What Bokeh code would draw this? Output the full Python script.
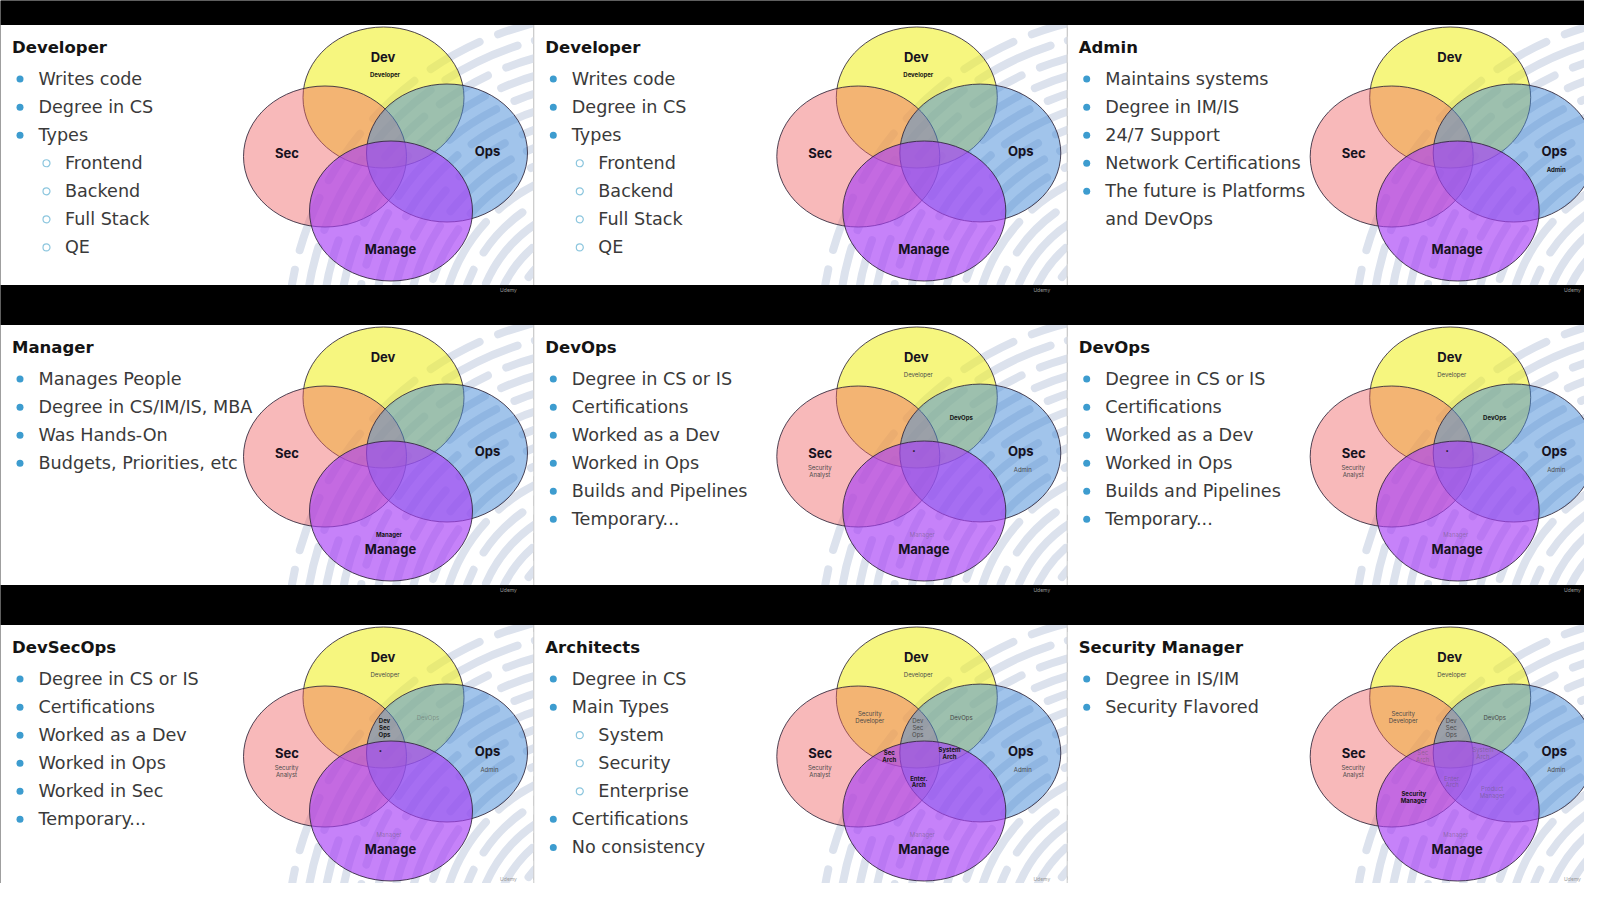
import numpy as np
from bokeh.plotting import figure
from bokeh.models import Range1d, ColumnDataSource
from bokeh.core.properties import value
from bokeh.embed import file_html
from bokeh.resources import INLINE

# ---------------- page geometry (1 data unit = 1 page pixel) ----------------
FIG_W, FIG_H = 1584, 883

tile_x0 = [0.0, 533.3, 1066.7]
tile_y0 = [0.0, 300.0, 600.0]
tile_w = 533.3
band_top, band_bottom = 24.5, 284.5

FONT_TEXT = "DejaVu Sans"
FONT_VENN = "Inter"

# ---------------- slide texts ----------------
titles = ["Developer", "Developer", "Admin", "Manager", "DevOps", "DevOps",
          "DevSecOps", "Architects", "Security Manager"]

# level 0 = bullet, 1 = sub-bullet, 2 = continuation line
bullets_developer = [(0, "Writes code"), (0, "Degree in CS"), (0, "Types"), (1, "Frontend"),
                     (1, "Backend"), (1, "Full Stack"), (1, "QE")]
bullets_admin = [(0, "Maintains systems"), (0, "Degree in IM/IS"), (0, "24/7 Support"),
                 (0, "Network Certifications"), (0, "The future is Platforms"), (2, "and DevOps")]
bullets_manager = [(0, "Manages People"), (0, "Degree in CS/IM/IS, MBA"), (0, "Was Hands-On"),
                   (0, "Budgets, Priorities, etc")]
bullets_devops = [(0, "Degree in CS or IS"), (0, "Certifications"), (0, "Worked as a Dev"),
                  (0, "Worked in Ops"), (0, "Builds and Pipelines"), (0, "Temporary...")]
bullets_devsecops = [(0, "Degree in CS or IS"), (0, "Certifications"), (0, "Worked as a Dev"),
                     (0, "Worked in Ops"), (0, "Worked in Sec"), (0, "Temporary...")]
bullets_architects = [(0, "Degree in CS"), (0, "Main Types"), (1, "System"), (1, "Security"),
                      (1, "Enterprise"), (0, "Certifications"), (0, "No consistency")]
bullets_secmanager = [(0, "Degree in IS/IM"), (0, "Security Flavored")]

slide_bullets = [bullets_developer, bullets_developer, bullets_admin, bullets_manager,
                 bullets_devops, bullets_devops, bullets_devsecops, bullets_architects,
                 bullets_secmanager]

# text layout inside a slide
title_x, title_y = 11.5, 47.0
bullet_y0, bullet_step = 78.6, 28.05
dot_x = [19.5, 46.0, None]
text_x = [38.0, 64.5, 38.0]

# ---------------- Venn diagram ----------------
venn_names = ["Dev", "Sec", "Ops", "Manage"]
venn_cx = [383.0, 324.5, 446.5, 390.5]
venn_cy = [97.0, 156.0, 152.5, 210.5]
venn_w = [161.0, 163.0, 161.0, 163.0]
venn_h = [141.0, 141.0, 138.0, 140.0]
venn_color = ["#f0f02a", "#f06466", "#4a8ed8", "#a842f6"]
venn_alpha = [0.6, 0.45, 0.52, 0.66]
venn_label_x = [382.5, 286.5, 487.0, 390.0]
venn_label_y = [56.0, 152.5, 150.5, 248.5]

role_names = ["Developer", "Security Analyst", "Admin", "Manager", "DevOps", "DevSecOps",
              "Security Developer", "Sec Arch", "System Arch", "Enter. Arch",
              "Security Manager", "Product Manager", "center"]
role_lines = [["Developer"], ["Security", "Analyst"], ["Admin"], ["Manager"], ["DevOps"],
              ["Dev", "Sec", "Ops"], ["Security", "Developer"], ["Sec", "Arch"],
              ["System", "Arch"], ["Enter.", "Arch"], ["Security", "Manager"],
              ["Product", "Manager"], ["\u2022"]]
role_x = [384.5, 286.0, 489.0, 388.5, 427.5, 384.0, 336.0, 355.5, 415.7, 385.0, 346.6, 425.0, 380.0]
role_y = [73.5, 167.3, 169.4, 233.7, 117.3, 120.4, 113.3, 152.0, 149.0, 177.6, 193.0, 188.0, 149.5]
role_line_gap = 6.7

# b = bold dark, g = gray, f = faint
slide_roles = [
    {"Developer": "b"},
    {"Developer": "b"},
    {"Admin": "b"},
    {"Manager": "b"},
    {"Developer": "g", "Security Analyst": "g", "Admin": "g", "Manager": "f", "DevOps": "b", "center": "b"},
    {"Developer": "g", "Security Analyst": "g", "Admin": "g", "Manager": "f", "DevOps": "b", "center": "b"},
    {"Developer": "g", "Security Analyst": "g", "Admin": "g", "Manager": "f", "DevOps": "f",
     "DevSecOps": "b", "center": "b"},
    {"Developer": "g", "Security Analyst": "g", "Admin": "g", "Manager": "f", "DevOps": "g",
     "DevSecOps": "g", "Security Developer": "g", "Sec Arch": "b", "System Arch": "b", "Enter. Arch": "b"},
    {"Developer": "g", "Security Analyst": "g", "Admin": "g", "Manager": "f", "DevOps": "g",
     "DevSecOps": "g", "Security Developer": "g", "Sec Arch": "f", "System Arch": "f", "Enter. Arch": "f",
     "Security Manager": "b", "Product Manager": "f"},
]

# decorative background arcs
stripe_cx, stripe_cy = 612.0, 338.0
stripe_r_a = [104, 138, 172, 206, 240, 274, 308]
stripe_r_b = [121, 155, 189, 223, 257, 291, 325]

udemy_dx, udemy_dy = 508.0, 289.5


p = figure(width=FIG_W, height=FIG_H, x_range=Range1d(0, FIG_W), y_range=Range1d(FIG_H, 0),
           output_backend="svg", toolbar_location=None, min_border=0,
           x_axis_location=None, y_axis_location=None)
p.xgrid.visible = False
p.ygrid.visible = False
p.outline_line_color = None
p.background_fill_color = "#000000"
p.border_fill_color = "#000000"

# ---------------- tiles ----------------
texts = {k: dict(x=[], y=[], text=[]) for k in
         ["title", "bullet", "venn", "rb", "rg", "rf", "udemy"]}
dots = dict(x=[], y=[])
subdots = dict(x=[], y=[])

for k in range(9):
    ox = tile_x0[k % 3]
    oy = tile_y0[k // 3]
    # white slide
    p.quad(left=[ox], right=[ox + tile_w], top=[oy + band_top], bottom=[oy + band_bottom],
           fill_color="#ffffff", line_color=None)
    # stripes
    for radii, dash, off in [(stripe_r_a, "80 18", 0), (stripe_r_b, "56 20", 30)]:
        p.circle(x=[ox + stripe_cx] * len(radii), y=[oy + stripe_cy] * len(radii), radius=radii,
                 fill_color=None, line_color="#dce2ed", line_width=8, line_dash=dash,
                 line_dash_offset=off, line_cap="round")
    # venn ellipses
    p.ellipse(x=[ox + v for v in venn_cx], y=[oy + v for v in venn_cy], width=venn_w, height=venn_h,
              fill_color=venn_color, fill_alpha=venn_alpha, line_color="#2e2438",
              line_width=1.0, line_alpha=0.85)

    # texts
    texts["title"]["x"].append(ox + title_x)
    texts["title"]["y"].append(oy + title_y)
    texts["title"]["text"].append(titles[k])
    for i, (lvl, t) in enumerate(slide_bullets[k]):
        yy = oy + bullet_y0 + i * bullet_step
        texts["bullet"]["x"].append(ox + text_x[lvl])
        texts["bullet"]["y"].append(yy)
        texts["bullet"]["text"].append(t)
        if lvl == 0:
            dots["x"].append(ox + dot_x[0]); dots["y"].append(yy)
        elif lvl == 1:
            subdots["x"].append(ox + dot_x[1]); subdots["y"].append(yy)
    for n, lx, ly in zip(venn_names, venn_label_x, venn_label_y):
        texts["venn"]["x"].append(ox + lx)
        texts["venn"]["y"].append(oy + ly)
        texts["venn"]["text"].append(n)
    for name, style in slide_roles[k].items():
        j = role_names.index(name)
        for li, line in enumerate(role_lines[j]):
            key = "r" + style
            texts[key]["x"].append(ox + role_x[j])
            texts[key]["y"].append(oy + role_y[j] + li * role_line_gap)
            texts[key]["text"].append(line)
    texts["udemy"]["x"].append(min(ox + udemy_dx, FIG_W - 12))
    texts["udemy"]["y"].append(min(oy + udemy_dy, FIG_H - 5))
    texts["udemy"]["text"].append("Udemy")

# black bars between screenshot rows
bar_top = [0.0, 284.5, 584.5, 884.5]
bar_bottom = [24.5, 324.5, 624.5, 899.0]
p.quad(left=[0] * 4, right=[FIG_W] * 4, top=bar_top, bottom=bar_bottom,
       fill_color="#000000", line_color=None)
# thin separators between columns
sep_x = [tile_x0[1], tile_x0[2]] * 3
sep_y0 = [tile_y0[r] + band_top for r in range(3) for _ in range(2)]
sep_y1 = [tile_y0[r] + band_bottom for r in range(3) for _ in range(2)]
p.segment(x0=sep_x, y0=sep_y0, x1=sep_x, y1=sep_y1, line_color="#c9c9c9", line_width=1)

# bullets
p.scatter(x="x", y="y", source=ColumnDataSource(dots), marker="circle", size=7,
          fill_color="#3d9ccf", line_color=None)
p.scatter(x="x", y="y", source=ColumnDataSource(subdots), marker="circle", size=7,
          fill_color=None, line_color="#8cc6de", line_width=1.2)

styles = {
    "title": dict(text_font=value(FONT_TEXT), text_font_size="16.5px", text_font_style="bold",
                  text_color="#141414", text_align="left"),
    "bullet": dict(text_font=value(FONT_TEXT), text_font_size="17.6px", text_font_style="normal",
                   text_color="#3a3a3a", text_align="left"),
    "venn": dict(text_font=value(FONT_VENN), text_font_size="13px", text_font_style="bold",
                 text_color="#16121e", text_align="center"),
    "rb": dict(text_font=value(FONT_VENN), text_font_size="6px", text_font_style="bold",
               text_color="#141414", text_align="center"),
    "rg": dict(text_font=value(FONT_VENN), text_font_size="6px", text_font_style="normal",
               text_color="#4a4a4a", text_align="center"),
    "rf": dict(text_font=value(FONT_VENN), text_font_size="6px", text_font_style="normal",
               text_color="#555555", text_align="center", text_alpha=0.45),
    "udemy": dict(text_font=value(FONT_VENN), text_font_size="5px", text_font_style="normal",
                  text_color="#9a9a9a", text_align="center"),
}
for key, st in styles.items():
    p.text(x="x", y="y", text="text", source=ColumnDataSource(texts[key]),
           text_baseline="middle", **st)

open("out.html", "w").write(file_html(p, INLINE))
